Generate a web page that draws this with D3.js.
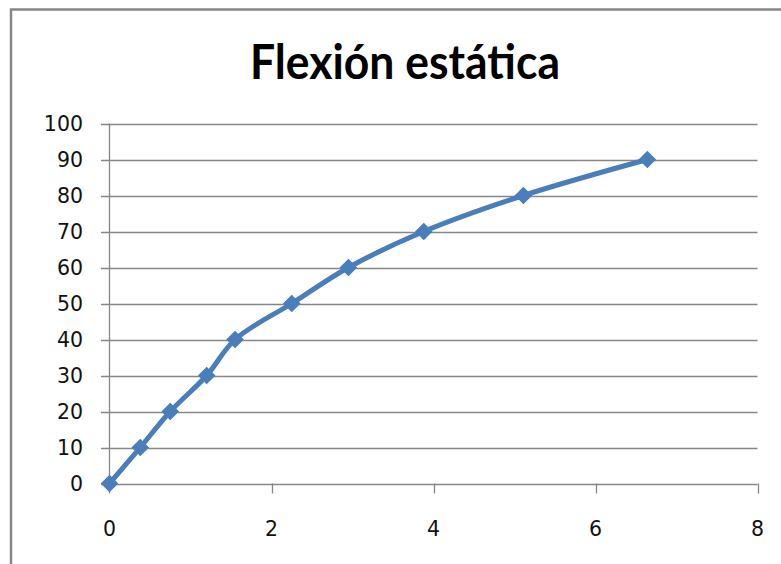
<!DOCTYPE html>
<html>
<head>
<meta charset="utf-8">
<script src="https://cdn.jsdelivr.net/npm/d3@7"></script>
<style>
  html, body { margin: 0; padding: 0; background: #fff; }
  svg { display: block; }
</style>
</head>
<body>
<svg id="chart" width="781" height="564"></svg>
<script>
// Static bending test: deflection (x) against load (y)
const title = "Flexión estática";
const deflection = [0, 0.38, 0.75, 1.2, 1.55, 2.25, 2.95, 3.88, 5.11, 6.64];
const load = [0, 10, 20, 30, 40, 50, 60, 70, 80, 90];
const xTicks = [0, 2, 4, 6, 8];
const yTicks = [0, 10, 20, 30, 40, 50, 60, 70, 80, 90, 100];

const svg = d3.select("#chart");
const gridColor = "#868686";
const lineColor = "#4a7ebb";

// Outer chart frame (top and left edges visible)
svg.append("path")
  .attr("d", "M11,564 L11,9.5 L781,9.5")
  .attr("fill", "none")
  .attr("stroke", gridColor)
  .attr("stroke-width", 2.5);

// Title
svg.append("text")
  .attr("x", 405)
  .attr("y", 79)
  .attr("text-anchor", "middle")
  .attr("font-family", "Lato, 'Open Sans', sans-serif")
  .attr("font-weight", "bold")
  .attr("font-size", 47)
  .attr("textLength", 310)
  .attr("lengthAdjust", "spacingAndGlyphs")
  .attr("fill", "#000")
  .text(title);

const x = d3.scaleLinear().domain([0, 8]).range([109.5, 757.5]);
const y = d3.scaleLinear().domain([0, 100]).range([483.5, 123.5]);

// Horizontal gridlines (with small ticks left of the axis)
svg.append("g")
  .selectAll("line")
  .data(yTicks)
  .join("line")
  .attr("x1", 101)
  .attr("x2", x.range()[1])
  .attr("y1", d => Math.round(y(d)) + 0.5)
  .attr("y2", d => Math.round(y(d)) + 0.5)
  .attr("stroke", gridColor)
  .attr("stroke-width", 1.3);

// Vertical axis line
svg.append("line")
  .attr("x1", x(0)).attr("x2", x(0))
  .attr("y1", y(100)).attr("y2", y(0) + 10)
  .attr("stroke", gridColor)
  .attr("stroke-width", 1.3);

// X tick marks
svg.append("g")
  .selectAll("line")
  .data(xTicks.slice(1))
  .join("line")
  .attr("x1", d => Math.round(x(d)) + 0.5)
  .attr("x2", d => Math.round(x(d)) + 0.5)
  .attr("y1", y(0))
  .attr("y2", y(0) + 10)
  .attr("stroke", gridColor)
  .attr("stroke-width", 1.3);

const labelFont = "'DejaVu Sans', Verdana, sans-serif";

// Y tick labels
svg.append("g")
  .selectAll("text")
  .data(yTicks)
  .join("text")
  .attr("x", 83)
  .attr("y", d => y(d) + 7.5)
  .attr("text-anchor", "end")
  .attr("font-family", labelFont)
  .attr("font-size", 20.5)
  .attr("fill", "#111")
  .text(d => d);

// X tick labels
svg.append("g")
  .selectAll("text")
  .data(xTicks)
  .join("text")
  .attr("x", d => x(d))
  .attr("y", 536)
  .attr("text-anchor", "middle")
  .attr("font-family", labelFont)
  .attr("font-size", 20.5)
  .attr("fill", "#111")
  .text(d => d);

const pts = deflection.map((d, i) => [d, load[i]]);

// Smoothed series line
svg.append("path")
  .datum(pts)
  .attr("fill", "none")
  .attr("stroke", lineColor)
  .attr("stroke-width", 5)
  .attr("stroke-linejoin", "round")
  .attr("d", d3.line()
    .x(d => x(d[0]))
    .y(d => y(d[1]))
    .curve(d3.curveCatmullRom.alpha(0.5)));

// Diamond markers
const diamond = d3.symbol().type(d3.symbolSquare).size(120);
svg.append("g")
  .selectAll("path")
  .data(pts)
  .join("path")
  .attr("d", diamond)
  .attr("transform", d => `translate(${x(d[0])},${y(d[1])}) rotate(45)`)
  .attr("fill", lineColor)
  .attr("stroke", lineColor)
  .attr("stroke-width", 1.5);
</script>
</body>
</html>
